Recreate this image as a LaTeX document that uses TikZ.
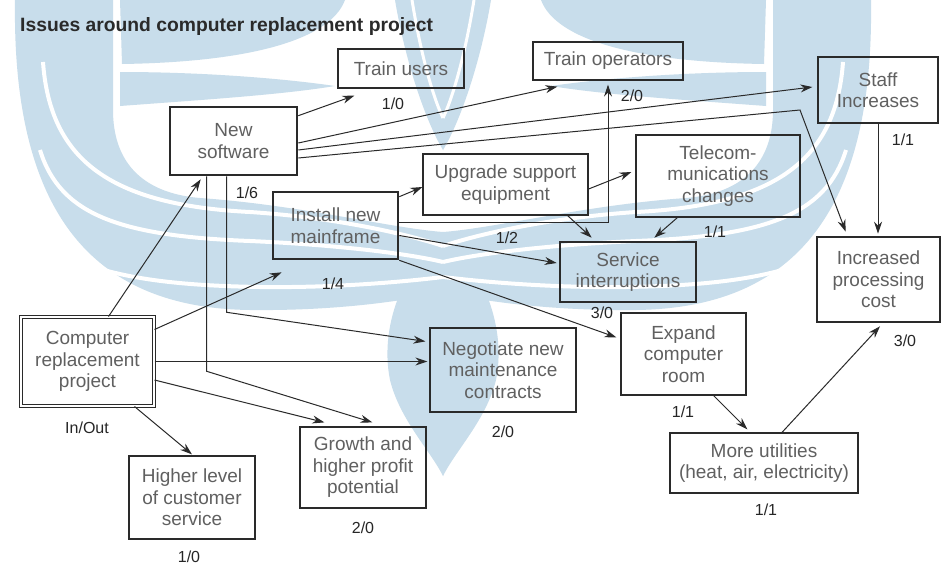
\documentclass[tikz,border=0pt]{standalone}
\usepackage{fontspec}
\setmainfont{Liberation Sans}
\usetikzlibrary{arrows.meta}
\definecolor{ink}{HTML}{2A2A2A}
\definecolor{txt}{HTML}{606060}
\definecolor{wm}{HTML}{C8DDEB}
\begin{document}
\begin{tikzpicture}[x=1pt,y=-1pt,
  box/.style={draw=ink, line width=1.2pt, align=center, text=txt,
    font=\fontsize{19}{21.5}\selectfont, inner sep=0pt},
  hbox/.style={box, line width=2.6pt},
  dbox/.style={box, line width=1pt, double, double distance=2pt},
  lbl/.style={text=black!85, font=\fontsize{16}{18}\selectfont, inner sep=0pt},
  arr/.style={draw=ink, line width=1pt, -{Stealth[length=12pt,width=8pt]}},
  ttl/.style={text=ink, font=\bfseries\fontsize{19.3}{21}\selectfont, inner sep=0pt, anchor=base west},
  gap/.style={draw=white, line width=4pt}]
\useasboundingbox (0,0) rectangle (942,565);
\fill[white] (0,0) rectangle (942,565);

% watermark (symmetric logo)
\foreach \sx/\ox in {1/0,-1/886} {
\begin{scope}[xshift=\ox pt, xscale=\sx]
  \fill[wm] (15,0) .. controls (12,210) and (90,308) .. (250,310)
    .. controls (340,311) and (410,300) .. (443,292) -- (443,232)
    .. controls (390,228) and (300,205) .. (200,198)
    .. controls (140,193) and (113,160) .. (113,110) -- (113,0) -- cycle;
  \fill[wm] (120,0) -- (345,0) .. controls (330,40) and (250,62) .. (122,64) -- cycle;
  \fill[wm] (120,72) .. controls (200,72) and (280,78) .. (335,86)
    .. controls (280,95) and (200,100) .. (120,106) -- cycle;
  \fill[wm] (395,0) .. controls (405,60) and (425,120) .. (443,150) -- (443,0) -- cycle;
  \fill[wm] (443,232) .. controls (410,260) and (378,320) .. (390,380)
    .. controls (400,420) and (430,450) .. (443,476) -- cycle;
  \draw[gap] (43,62) .. controls (50,160) and (110,205) .. (250,212)
    .. controls (340,218) and (410,235) .. (443,246);
  \draw[gap] (40,150) .. controls (60,215) and (120,236) .. (250,241)
    .. controls (340,245) and (410,254) .. (443,262);
  \draw[gap] (80,262) .. controls (130,282) and (200,286) .. (260,287)
    .. controls (340,288) and (410,281) .. (443,277);
  \draw[draw=white, line width=3pt] (412,0) .. controls (420,50) and (432,95) .. (443,118);
\end{scope}
}

\node[ttl] (title) at (20,31) {Issues around computer replacement project};

% nodes
\node[box, minimum width=126pt, minimum height=39pt] (tu) at (401,68.5) {Train users};
\node[hbox, minimum width=127pt, minimum height=68pt] (ns) at (233.5,141) {New\\software};
\node[hbox, minimum width=125pt, minimum height=67pt] (inm) at (335.5,225.5) {Install new\\mainframe};
\node[box, minimum width=165pt, minimum height=61pt] (use) at (505.5,184.5) {Upgrade support\\equipment};
\node[box, minimum width=150pt, minimum height=38pt] (to) at (608,61) {Train operators};
\node[box, minimum width=120pt, minimum height=66pt] (staff) at (878,90) {Staff\\Increases};
\node[box, minimum width=164pt, minimum height=82pt] (tel) at (718,176) {Telecom-\\munications\\changes};
\node[hbox, minimum width=136pt, minimum height=60pt] (serv) at (628,272) {Service\\interruptions};
\node[hbox, minimum width=123pt, minimum height=85pt] (ipc) at (878.5,279.5) {Increased\\processing\\cost};
\node[dbox, minimum width=133pt, minimum height=89pt] (crp) at (87.5,361.5) {Computer\\replacement\\project};
\node[box, minimum width=146pt, minimum height=84pt] (neg) at (503,370) {Negotiate new\\maintenance\\contracts};
\node[box, minimum width=125pt, minimum height=82pt] (ecr) at (683.5,354) {Expand\\computer\\room};
\node[box, minimum width=188pt, minimum height=60pt] (mu) at (764,463) {More utilities\\(heat, air, electricity)};
\node[box, minimum width=126pt, minimum height=81pt] (gro) at (363,467.5) {Growth and\\higher profit\\potential};
\node[box, minimum width=126pt, minimum height=83pt] (hl) at (192,497.5) {Higher level\\of customer\\service};

% labels
\node[lbl] (l1) at (393,104) {1/0};
\node[lbl] (l2) at (247,193) {1/6};
\node[lbl] (l3) at (333,284) {1/4};
\node[lbl] (l4) at (507,238) {1/2};
\node[lbl] (l5) at (632,96) {2/0};
\node[lbl] (l6) at (903,140) {1/1};
\node[lbl] (l7) at (715,232) {1/1};
\node[lbl] (l8) at (602,313) {3/0};
\node[lbl] (l9) at (905,341) {3/0};
\node[lbl] (l10) at (87,428) {In/Out};
\node[lbl] (l11) at (503,432) {2/0};
\node[lbl] (l12) at (683,412) {1/1};
\node[lbl] (l13) at (766,510) {1/1};
\node[lbl] (l14) at (363,528) {2/0};
\node[lbl] (l15) at (189,557) {1/0};

% connectors
\draw[arr] ([xshift=88pt]crp.north west) -- ([xshift=32pt,yshift=-3pt]ns.south west);
\draw[arr] ([yshift=-13pt]crp.north east) -- ([xshift=10pt,yshift=-12pt]inm.south west);
\draw[arr, shorten >=2pt] (crp.east) -- (crp.east -| neg.west);
\draw[arr] ([yshift=-18.5pt]crp.east) -- ([xshift=25pt,yshift=4pt]gro.north west);
\draw[arr] ([xshift=114pt]crp.south west) -- ([yshift=1pt]hl.north);
\draw[arr] ([xshift=38pt]ns.south west) -- ++(0,195) -- ([xshift=73pt,yshift=4pt]gro.north west);
\draw[arr] ([xshift=58pt]ns.south west) -- ++(0,136) -- ([xshift=-4pt,yshift=-14pt]neg.north west);
\draw[arr] ([yshift=-10pt]ns.north east) -- ([xshift=17pt,yshift=-7pt]tu.south west);
\draw[arr] ([yshift=-2pt]ns.east) -- ([xshift=25pt,yshift=-6pt]to.south west);
\draw[arr] ([yshift=-9pt]ns.east) -- ([xshift=-5pt,yshift=3pt]staff.west);
\draw[arr] ([yshift=-17pt]ns.east) -- (800,110) -- ([xshift=30pt,yshift=4pt]ipc.north west);
\draw[arr, shorten >=2pt] (staff.south) -- (staff.south |- ipc.north);
\draw[arr] ([yshift=-6pt]inm.north east) -- ([yshift=-2.5pt]use.west);
\draw[arr] ([yshift=3.5pt]inm.east) -| ([yshift=-4pt]to.south);
\draw[arr] ([yshift=-10pt]inm.east) -- ([xshift=-2pt,yshift=9pt]serv.west);
\draw[arr] (inm.south east) -- ([xshift=-4pt,yshift=-25pt]ecr.north west);
\draw[arr] ([yshift=-4.5pt]use.east) -- ([xshift=-4pt,yshift=4pt]tel.west);
\draw[arr] ([xshift=-21pt]use.south east) -- ([xshift=33pt,yshift=3pt]serv.north west);
\draw[arr] ([xshift=42pt]tel.south west) -- ([xshift=-43pt,yshift=3pt]serv.north east);
\draw[arr] ([xshift=-33pt]ecr.south east) -- ([xshift=78pt,yshift=3pt]mu.north west);
\draw[arr] ([xshift=18pt]mu.north) -- ([xshift=1.5pt,yshift=-3pt]ipc.south);
\end{tikzpicture}
\end{document}
